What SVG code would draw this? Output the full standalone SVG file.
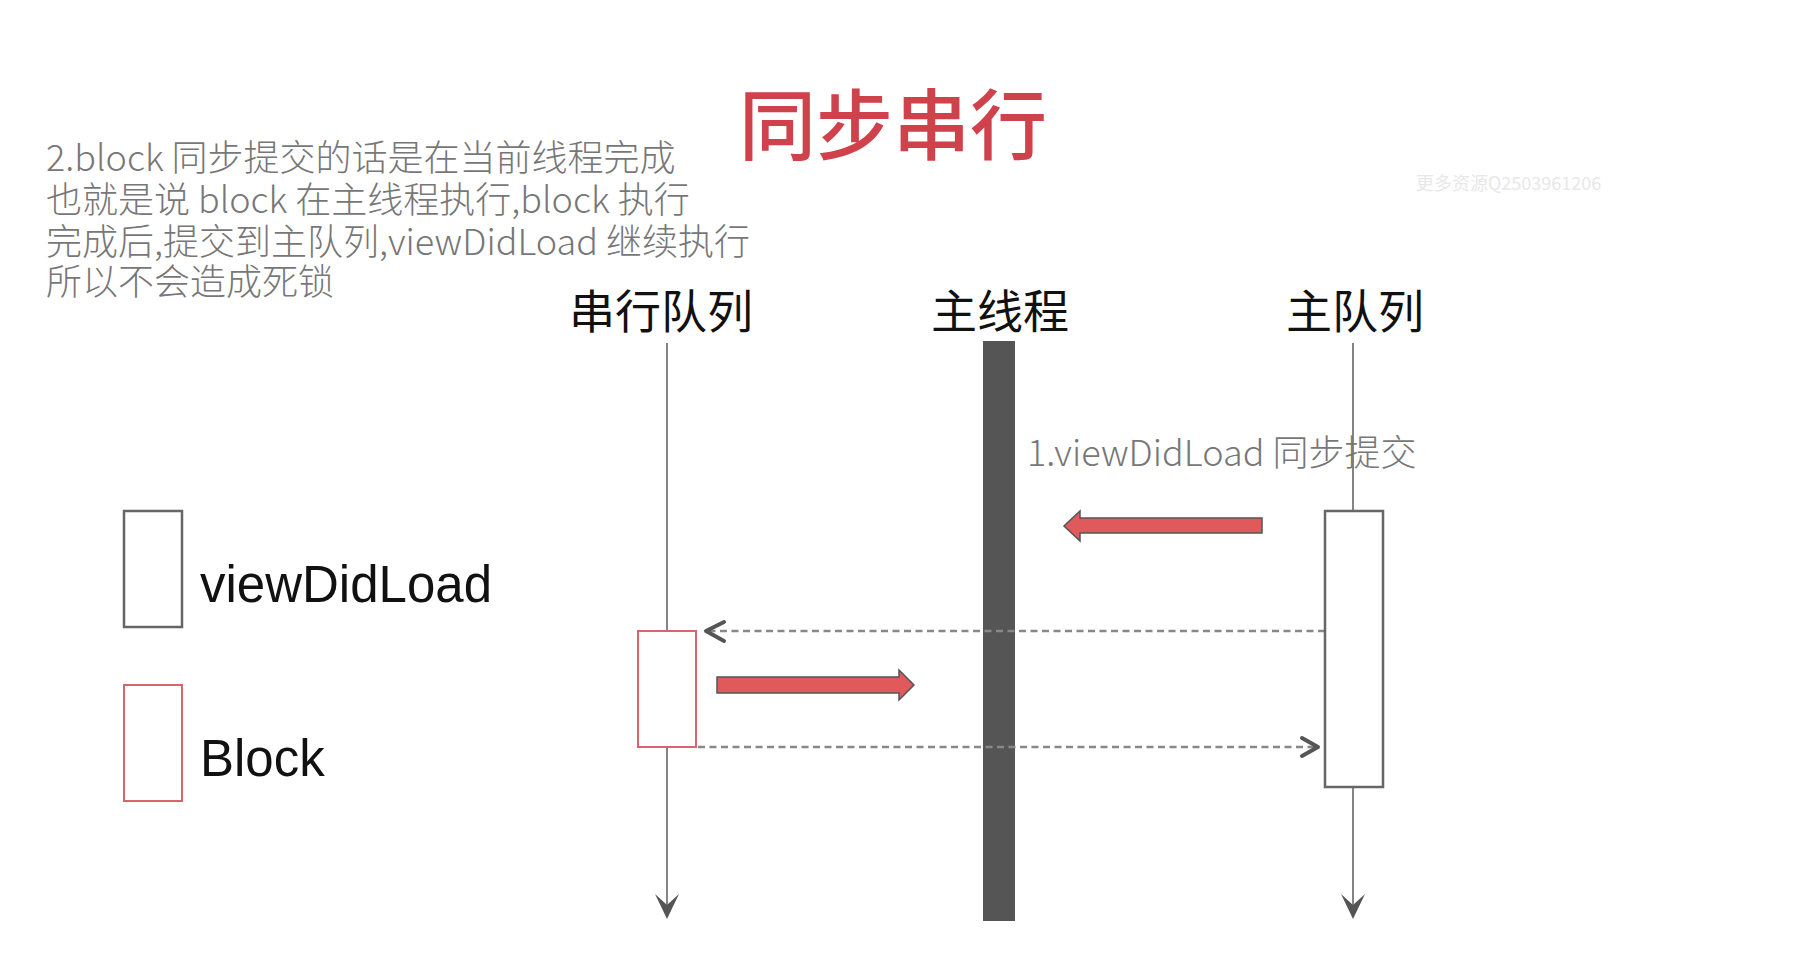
<svg xmlns="http://www.w3.org/2000/svg" width="1794" height="968" viewBox="0 0 1794 968">
<style>
.cjk{font-family:"Noto Sans CJK SC","Noto Sans",sans-serif}
.note{font-family:"Noto Sans CJK SC","Noto Sans",sans-serif;font-size:36px;fill:#777;font-weight:300}
.head{font-family:"Noto Sans CJK SC","Noto Sans",sans-serif;font-size:46px;fill:#111;text-anchor:middle}
.leg{font-family:"Liberation Sans","Noto Sans",sans-serif;font-size:51px;fill:#111}
.life{stroke:#666;stroke-width:1.6;fill:none}
.dash{stroke:#888;stroke-width:2.5;stroke-dasharray:7 4.5;fill:none}
.chev{stroke:#555;stroke-width:4;fill:none;stroke-linecap:round;stroke-linejoin:round}
.red{fill:#e05a5c;stroke:#555;stroke-width:1.5}
.act{fill:#fff;stroke:#666;stroke-width:2.5}
.actr{fill:#fff;stroke:#d9646b;stroke-width:2}
.tip{fill:#555}
</style>
<rect width="1794" height="968" fill="#fff"/>
<g id="title"><text x="893" y="154" class="cjk" font-size="77" font-weight="500" fill="#d0424b" text-anchor="middle">同步串行</text></g>
<g id="watermark"><text x="1416" y="190" class="cjk" font-size="18" fill="#e8e8e8">更多资源Q2503961206</text></g>
<g id="note">
<text x="46" y="171" class="note">2.block 同步提交的话是在当前线程完成</text>
<text x="46" y="213" class="note">也就是说 block 在主线程执行,block 执行</text>
<text x="46" y="255" class="note">完成后,提交到主队列,viewDidLoad 继续执行</text>
<text x="46" y="295" class="note">所以不会造成死锁</text>
</g>
<g id="legend-viewDidLoad"><rect x="124" y="511" width="58" height="116" class="act"/><text x="200" y="602" class="leg">viewDidLoad</text></g>
<g id="legend-block"><rect x="124" y="685" width="58" height="116" class="actr"/><text x="200" y="776" class="leg">Block</text></g>
<g id="serial-queue">
<text x="661" y="328" class="head">串行队列</text>
<line x1="667" y1="343" x2="667" y2="905" class="life"/>
<path d="M667,919 L655,894 L667,905 L679,894 Z" class="tip"/>
</g>
<g id="main-thread">
<text x="1000" y="328" class="head">主线程</text>
<rect x="983" y="341" width="32" height="580" fill="#555"/>
</g>
<g id="main-queue">
<text x="1355" y="328" class="head">主队列</text>
<line x1="1353" y1="343" x2="1353" y2="905" class="life"/>
<path d="M1353,919 L1341,894 L1353,905 L1365,894 Z" class="tip"/>
</g>
<g id="label-1"><text x="1027" y="466" class="note" font-size="34.5">1.viewDidLoad 同步提交</text></g>
<g id="connectors">
<path d="M1262,518 L1080,518 L1080,511 L1064,526 L1080,541 L1080,533 L1262,533 Z" class="red"/>
<line x1="1325" y1="631" x2="708" y2="631" class="dash"/>
<polyline points="724,622 706,631 724,641" class="chev"/>
<path d="M717,677 L899,677 L899,670 L914,685 L899,700 L899,693 L717,693 Z" class="red"/>
<line x1="698" y1="747" x2="1316" y2="747" class="dash"/>
<polyline points="1302,738 1318,747 1302,756" class="chev"/>
</g>
<g id="activation-main-queue"><rect x="1325" y="511" width="58" height="276" class="act"/></g>
<g id="activation-block"><rect x="638" y="631" width="58" height="116" class="actr"/></g>
</svg>
